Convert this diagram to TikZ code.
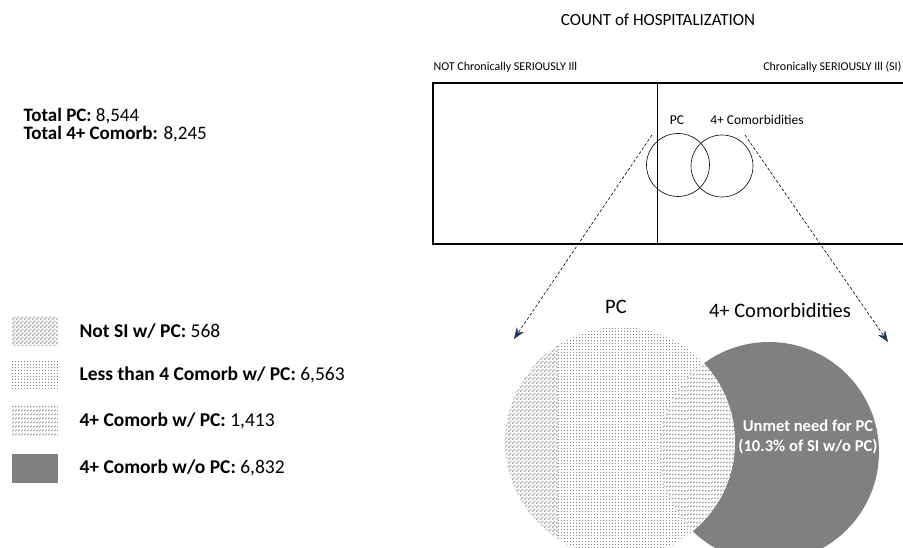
\documentclass[tikz,border=0pt]{standalone}
\usepackage{fontspec}
\setmainfont{Carlito}
\usepackage{tikz}
\usetikzlibrary{arrows.meta,patterns,patterns.meta}
\definecolor{darkfill}{HTML}{808080}
\definecolor{tipc}{HTML}{1F3864}
\tikzdeclarepattern{
  name=dashrows, type=uncolored,
  bounding box={(0,0) and (3pt,4pt)},
  tile size={(3pt,4pt)},
  code={\draw[line width=0.8pt] (0.2pt,1pt) -- (2.2pt,2.8pt);}
}
\tikzdeclarepattern{
  name=finechecker, type=uncolored,
  bounding box={(0,0) and (4pt,4pt)},
  tile size={(4pt,4pt)},
  code={\fill (0,0) rectangle (2pt,2pt) (2pt,2pt) rectangle (4pt,4pt);}
}
\tikzdeclarepattern{
  name=finedots, type=uncolored,
  bounding box={(0,0) and (3pt,3pt)},
  tile size={(3pt,3pt)},
  code={\fill (0,0) rectangle (1.2pt,1.2pt);}
}
\tikzset{
  ar/.style={densely dashed,semithick,-{Stealth[length=4mm,width=3mm,tipc]}},
  lbl/.style={font=\fontsize{12}{14}\selectfont},
  inlbl/.style={font=\fontsize{13.5}{16}\selectfont},
  leg/.style={font=\fontsize{19.5}{22}\selectfont,anchor=west},
  swatch/.style={minimum width=46pt,minimum height=29pt,inner sep=0pt}
}
\begin{document}
\begin{tikzpicture}[x=1pt,y=-1pt]
\useasboundingbox (0,0) rectangle (903,548);
% heading and frame
\node[font=\fontsize{17}{20}\selectfont] (title) at (658,20) {COUNT of HOSPITALIZATION};
\node[lbl,anchor=west] (notsi) at (430,67) {NOT Chronically SERIOUSLY Ill};
\node[lbl,anchor=east] (si) at (905,67) {Chronically SERIOUSLY Ill (SI)};
\draw[line width=1.1pt] (433,83) rectangle (912,244);
\draw (657,83) -- (657,244);
\node[circle,draw,semithick,minimum size=63pt,inner sep=0pt] (pcsmall) at (678,165) {};
\node[circle,draw,semithick,minimum size=62pt,inner sep=0pt] (comsmall) at (722,166) {};
\node[inlbl] (pcsl) at (677,120) {PC};
\node[inlbl] (comsl) at (757,120) {4+ Comorbidities};
% zoom arrows
\coordinate (la) at (652,135);
\coordinate (lb) at (514,339);
\coordinate (ra) at (745,135);
\coordinate (rb) at (888,342);
\draw[ar] (la) -- (lb);
\draw[ar] (ra) -- (rb);
% big venn
\coordinate (bpc) at (620,442);
\coordinate (bcom) at (769,452);
\fill[darkfill] (bcom) circle (110);
\begin{scope}
  \clip (bpc) circle (115);
  \fill[white] (bpc) circle (115);
  \pattern[pattern=finedots,pattern color=gray] (bpc) circle (115);
  \fill[white] (500,320) rectangle (558,560);
  \pattern[pattern=finechecker,pattern color=gray!60] (500,320) rectangle (558,560);
  \clip (bcom) circle (110);
  \fill[white] (bcom) circle (110);
  \pattern[pattern=dashrows,pattern color=gray] (bcom) circle (110);
\end{scope}
\node[font=\fontsize{20.5}{24}\selectfont] (pcbig) at (616,307) {PC};
\node[font=\fontsize{20.5}{24}\selectfont] (combig) at (780,310) {4+ Comorbidities};
\node[text=white,font=\bfseries\fontsize{16.6}{20}\selectfont,align=center] (unmet) at (808,437) {Unmet need for PC\\(10.3\% of SI w/o PC)};
% totals
\node[anchor=west,align=left,font=\fontsize{19}{18}\selectfont] (totals) at (20,125) {\textbf{Total PC:} 8,544\\\textbf{Total 4+ Comorb:} 8,245};
% legend
\node[swatch,pattern=finechecker,pattern color=gray!60] (s1) at (35,331) {};
\node[swatch,pattern=finedots,pattern color=gray] (s2) at (35,375) {};
\node[swatch,pattern=dashrows,pattern color=gray] (s3) at (35,421) {};
\node[swatch,fill=darkfill] (s4) at (35,468) {};
\node[leg] (t1) at (76,331) {\textbf{Not SI w/ PC:} 568};
\node[leg] (t2) at (76,375) {\textbf{Less than 4 Comorb w/ PC:} 6,563};
\node[leg] (t3) at (76,421) {\textbf{4+ Comorb w/ PC:} 1,413};
\node[leg] (t4) at (76,468) {\textbf{4+ Comorb w/o PC:} 6,832};
\end{tikzpicture}
\end{document}
